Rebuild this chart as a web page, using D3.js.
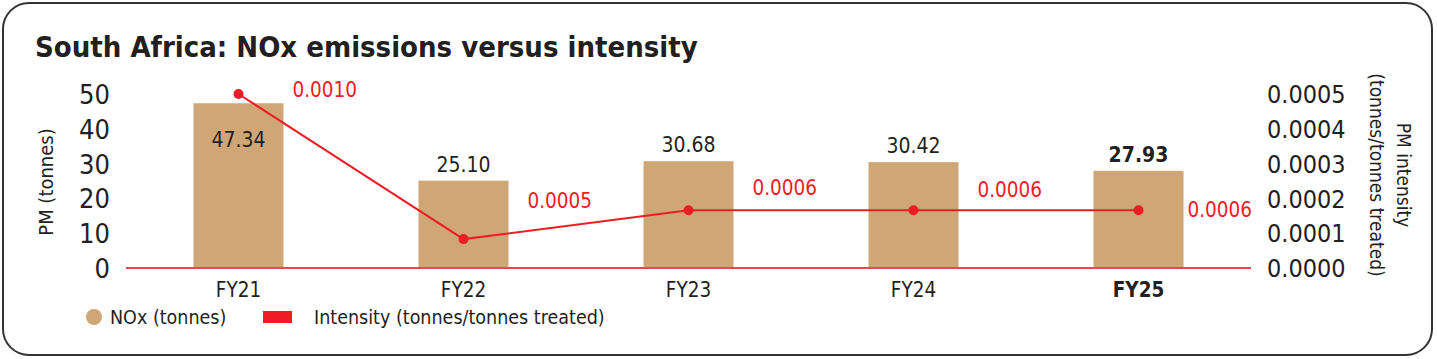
<!DOCTYPE html>
<html><head><meta charset="utf-8">
<script src="https://cdn.jsdelivr.net/npm/d3@7/dist/d3.min.js"></script>
<style>
html,body{margin:0;padding:0;background:#fff;}
svg{display:block;}
text{font-family:"DejaVu Sans Condensed","DejaVu Sans",sans-serif;}
</style></head>
<body>
<script>
const categories = ["FY21","FY22","FY23","FY24","FY25"];
const noxTonnes = [47.34, 25.10, 30.68, 30.42, 27.93];
const noxLabels = ["47.34","25.10","30.68","30.42","27.93"];
const intensityPlotted = [0.0005, 0.000083, 0.000166, 0.000166, 0.000166];
const intensityLabels = ["0.0010","0.0005","0.0006","0.0006","0.0006"];
const leftTicks = [0,10,20,30,40,50];
const rightTicks = [0,0.0001,0.0002,0.0003,0.0004,0.0005];
const rightTickLabels = ["0.0000","0.0001","0.0002","0.0003","0.0004","0.0005"];

const W = 1437, H = 359;
const svg = d3.select("body").append("svg").attr("width", W).attr("height", H);

svg.append("rect").attr("x",3).attr("y",3).attr("width",1429).attr("height",352)
  .attr("rx",26).attr("ry",26).attr("fill","#fff").attr("stroke","#333").attr("stroke-width",2);

svg.append("text").attr("x",35).attr("y",57).attr("font-size",29).attr("font-weight","bold")
  .attr("fill","#231f20").text("South Africa: NOx emissions versus intensity");

const x0 = 126, x1 = 1251, yTop = 94, yBot = 268;
const x = d3.scaleBand().domain(categories).range([x0, x1]).paddingInner(0.6).paddingOuter(0.3);
const yL = d3.scaleLinear().domain([0,50]).range([yBot, yTop]);
const yR = d3.scaleLinear().domain([0,0.0005]).range([yBot, yTop]);

const red = "#ee1c25";
const barColor = "#cfa675";
const txt = "#231f20";

// left axis
const gL = svg.append("g").attr("transform",`translate(${x0-16},0)`)
  .call(d3.axisLeft(yL).tickValues(leftTicks).tickSize(0).tickPadding(0).tickFormat(d3.format("d")));
gL.select(".domain").remove();
gL.selectAll("text").attr("font-size",27).attr("fill",txt).attr("font-family",null).attr("dy","0.35em");

svg.append("text").attr("transform",`translate(53,182) rotate(-90)`)
  .attr("text-anchor","middle").attr("font-size",20).attr("fill",txt).text("PM (tonnes)");

// right axis
const gR = svg.append("g").attr("transform",`translate(${1267},0)`)
  .call(d3.axisRight(yR).tickValues(rightTicks).tickSize(0).tickPadding(0)
    .tickFormat((d,i)=>rightTickLabels[i]));
gR.select(".domain").remove();
gR.selectAll("text").attr("font-size",25).attr("fill",txt).attr("font-family",null).attr("dy","0.35em");

const rt = svg.append("text").attr("transform",`translate(1370,175) rotate(90)`)
  .attr("text-anchor","middle").attr("font-size",19).attr("fill",txt);
rt.append("tspan").attr("x",0).attr("y",-27).text("PM intensity");
rt.append("tspan").attr("x",0).attr("y",0).text("(tonnes/tonnes treated)");

// bars
svg.selectAll("rect.bar").data(categories).enter().append("rect").attr("class","bar")
  .attr("x",d=>x(d)).attr("width",x.bandwidth())
  .attr("y",(d,i)=>yL(noxTonnes[i])).attr("height",(d,i)=>yBot-yL(noxTonnes[i]))
  .attr("fill",barColor);

// baseline
svg.append("line").attr("x1",x0).attr("x2",x1).attr("y1",yBot).attr("y2",yBot)
  .attr("stroke","#f04550").attr("stroke-width",2);

// bar labels
svg.selectAll("text.barlab").data(categories).enter().append("text").attr("class","barlab")
  .attr("x",d=>x(d)+x.bandwidth()/2)
  .attr("y",(d,i)=> i===0 ? yL(noxTonnes[i])+44 : yL(noxTonnes[i])-9)
  .attr("text-anchor","middle").attr("font-size",21).attr("fill",txt)
  .attr("font-weight",(d,i)=>i===4?"bold":"normal")
  .text((d,i)=>noxLabels[i]);

// x labels
svg.selectAll("text.xlab").data(categories).enter().append("text").attr("class","xlab")
  .attr("x",d=>x(d)+x.bandwidth()/2).attr("y",297)
  .attr("text-anchor","middle").attr("font-size",20.5).attr("fill",txt)
  .attr("font-weight",(d,i)=>i===4?"bold":"normal").text(d=>d);

// line
const cx = d=>x(d)+x.bandwidth()/2;
const line = d3.line().x((d,i)=>cx(categories[i])).y(d=>yR(d));
svg.append("path").datum(intensityPlotted).attr("d",line).attr("fill","none")
  .attr("stroke",red).attr("stroke-width",2);
svg.selectAll("circle.pt").data(intensityPlotted).enter().append("circle").attr("class","pt")
  .attr("cx",(d,i)=>cx(categories[i])).attr("cy",d=>yR(d)).attr("r",5).attr("fill",red);

// line labels (offset from points)
const lblDx = [54,64,64,64,49];
const lblDy = [3,-31,-15,-13,7];
svg.selectAll("text.ilab").data(intensityPlotted).enter().append("text").attr("class","ilab")
  .attr("x",(d,i)=>cx(categories[i])+lblDx[i]).attr("y",(d,i)=>yR(d)+lblDy[i])
  .attr("font-size",20.5).attr("fill",red)
  .text((d,i)=>intensityLabels[i]);

// legend
svg.append("circle").attr("cx",94).attr("cy",317).attr("r",8).attr("fill",barColor);
svg.append("text").attr("x",110).attr("y",324).attr("font-size",19.5).attr("fill",txt).text("NOx (tonnes)");
svg.append("rect").attr("x",263).attr("y",311).attr("width",29).attr("height",12).attr("fill",red);
svg.append("text").attr("x",314).attr("y",324).attr("font-size",19.5).attr("fill",txt).text("Intensity (tonnes/tonnes treated)");
</script>
</body></html>
